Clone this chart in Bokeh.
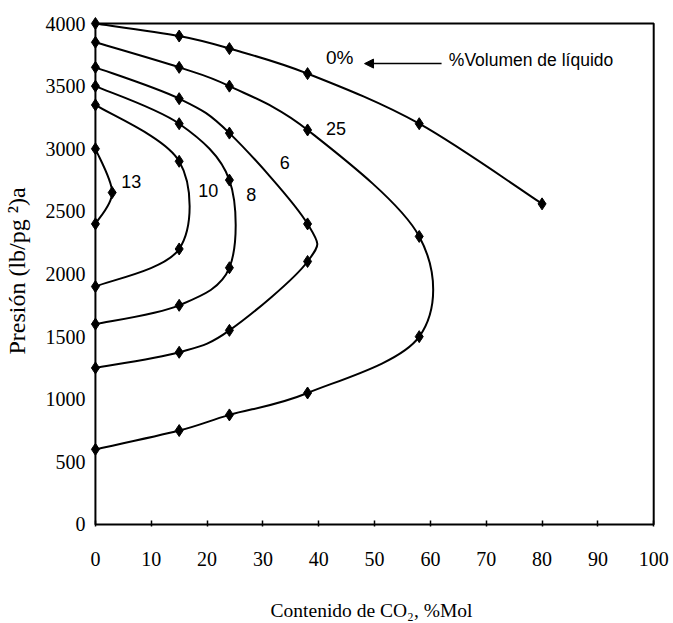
from bokeh.plotting import figure
from bokeh.models import Range1d, FixedTicker, BoxAnnotation, Label, Arrow, NormalHead
from bokeh.embed import file_html
from bokeh.resources import INLINE

# ---- data (CO2 content %mol, pressure psia) ----
x_0 = [0, 15, 24, 38, 58, 80]
y_0 = [4000, 3900, 3800, 3600, 3200, 2560]

x_25 = [0, 15, 24, 38, 58, 58, 38, 24, 15, 0]
y_25 = [3850, 3650, 3500, 3150, 2300, 1500, 1050, 875, 750, 600]

x_6 = [0, 15, 24, 38, 38, 24, 15, 0]
y_6 = [3650, 3400, 3125, 2400, 2100, 1550, 1375, 1250]

x_8 = [0, 15, 24, 24, 15, 0]
y_8 = [3500, 3200, 2750, 2050, 1750, 1600]

x_10 = [0, 15, 15, 0]
y_10 = [3350, 2900, 2200, 1900]

x_13 = [0, 3, 0]
y_13 = [3000, 2650, 2400]

x_ticks = [0, 10, 20, 30, 40, 50, 60, 70, 80, 90, 100]
y_ticks = [0, 500, 1000, 1500, 2000, 2500, 3000, 3500, 4000]

curves = [(x_0, y_0), (x_25, y_25), (x_6, y_6), (x_8, y_8), (x_10, y_10), (x_13, y_13)]


def smooth(xs, ys):
    """Bezier control points for a smoothed line through the data points."""
    n = len(xs)
    seg = dict(x0=[], y0=[], x1=[], y1=[], cx0=[], cy0=[], cx1=[], cy1=[])
    for i in range(n - 1):
        a = i - 1 if i > 0 else i
        d = i + 2 if i + 2 < n else i + 1
        t1x = (xs[i + 1] - xs[a]) / 2.0
        t1y = (ys[i + 1] - ys[a]) / 2.0
        t2x = (xs[d] - xs[i]) / 2.0
        t2y = (ys[d] - ys[i]) / 2.0
        seg["x0"].append(xs[i]); seg["y0"].append(ys[i])
        seg["x1"].append(xs[i + 1]); seg["y1"].append(ys[i + 1])
        seg["cx0"].append(xs[i] + t1x / 3.0); seg["cy0"].append(ys[i] + t1y / 3.0)
        seg["cx1"].append(xs[i + 1] - t2x / 3.0); seg["cy1"].append(ys[i + 1] - t2y / 3.0)
    return seg


p = figure(width=673, height=623, output_backend="svg", toolbar_location=None,
           x_range=Range1d(-1.6, 100.5), y_range=Range1d(-16, 4064),
           min_border_left=82, min_border_right=17, min_border_top=15, min_border_bottom=97)

p.xgrid.visible = False
p.ygrid.visible = False
p.outline_line_color = None
p.background_fill_color = "white"
p.border_fill_color = "white"

for xs, ys in curves:
    s = smooth(xs, ys)
    p.bezier(x0=s["x0"], y0=s["y0"], x1=s["x1"], y1=s["y1"],
             cx0=s["cx0"], cy0=s["cy0"], cx1=s["cx1"], cy1=s["cy1"],
             line_color="black", line_width=2)
    p.scatter(xs, ys, marker="diamond", size=12, color="black")

# plot frame box
p.add_layout(BoxAnnotation(left=0, right=100, bottom=0, top=4000, fill_color=None,
                           line_color="black", line_width=2, line_alpha=1))

# axes
p.xaxis.ticker = FixedTicker(ticks=x_ticks)
p.yaxis.ticker = FixedTicker(ticks=y_ticks)
p.xaxis.axis_line_color = None
p.yaxis.axis_line_color = None
p.xaxis.minor_tick_line_color = None
p.yaxis.minor_tick_line_color = None
p.xaxis.major_tick_in = 6
p.xaxis.major_tick_out = 0
p.xaxis.major_tick_line_width = 1.5
p.yaxis.major_tick_in = 0
p.yaxis.major_tick_out = 0

p.xaxis.major_label_text_font = "Liberation Serif"
p.xaxis.major_label_text_font_size = "20px"
p.xaxis.major_label_text_color = "black"
p.xaxis.major_label_standoff = 25
p.yaxis.major_label_text_font = "Liberation Serif"
p.yaxis.major_label_text_font_size = "20px"
p.yaxis.major_label_text_color = "black"
p.yaxis.major_label_standoff = 1

p.xaxis.axis_label = "Contenido de CO\u2082, %Mol"
p.xaxis.axis_label_text_font = "Liberation Serif"
p.xaxis.axis_label_text_font_style = "normal"
p.xaxis.axis_label_text_font_size = "19.5px"
p.xaxis.axis_label_text_color = "black"
p.xaxis.axis_label_standoff = 31

p.yaxis.axis_label = "Presi\u00f3n (lb/pg \u00b2)a"
p.yaxis.axis_label_text_font = "Liberation Serif"
p.yaxis.axis_label_text_font_style = "normal"
p.yaxis.axis_label_text_font_size = "24px"
p.yaxis.axis_label_text_color = "black"
p.yaxis.axis_label_standoff = 13

# annotations
def lab(x, y, t, size="18px", align="left"):
    p.add_layout(Label(x=x, y=y, text=t, text_font="Liberation Sans", text_font_size=size,
                       text_align=align, text_baseline="middle", text_color="black"))

lab(41.3, 3730, "0%", "19px")
lab(63.3, 3710, "%Volumen de l\u00edquido", "17.5px")
lab(41.3, 3160, "25", "18px")
lab(33.9, 2890, "6", "18px", "center")
lab(6.4, 2735, "13", "18px", "center")
lab(20.2, 2665, "10", "18px", "center")
lab(27.9, 2635, "8", "18px", "center")

p.add_layout(Arrow(end=NormalHead(size=9, fill_color="black", line_color="black"),
                   x_start=62, y_start=3680, x_end=48.2, y_end=3680,
                   line_color="black", line_width=1.5))

open("out.html", "w").write(file_html(p, INLINE))
